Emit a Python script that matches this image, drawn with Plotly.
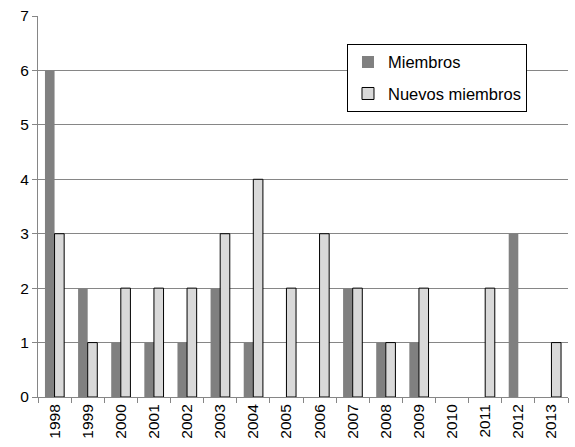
import plotly.graph_objects as go

years = ['1998', '1999', '2000', '2001', '2002', '2003', '2004', '2005',
         '2006', '2007', '2008', '2009', '2010', '2011', '2012', '2013']
miembros = [6, 2, 1, 1, 1, 2, 1, 0, 0, 2, 1, 1, 0, 0, 3, 0]
nuevos = [3, 1, 2, 2, 2, 3, 4, 2, 3, 2, 1, 2, 0, 2, 0, 1]

fig = go.Figure()
fig.add_trace(go.Bar(
    x=years, y=miembros, name='Miembros', legendgroup='a',
    marker=dict(color='#808080', line=dict(width=0)),
))
fig.add_trace(go.Bar(
    x=years, y=nuevos, name='Nuevos miembros', legendgroup='b',
    # no outline for empty bars
    marker=dict(color='#d9d9d9',
                line=dict(color='black', width=[1 if v else 0 for v in nuevos])),
))

fig.update_layout(
    width=575, height=447,
    barmode='group', bargap=0.42, bargroupgap=0,
    plot_bgcolor='white', paper_bgcolor='white',
    font=dict(family='Liberation Sans, Arial', size=15.5, color='black'),
    margin=dict(l=38, r=7, t=14, b=50),
    legend=dict(
        x=0.583, y=0.927, xanchor='left', yanchor='top',
        bordercolor='black', borderwidth=1,
        font=dict(size=16.5), tracegroupgap=7,
        itemwidth=30,
    ),
    xaxis=dict(
        tickangle=-90, showline=True, linecolor='#868686',
        ticks='outside', ticklen=5, tickcolor='#868686',
        tickson='boundaries', showgrid=False,
    ),
    yaxis=dict(
        range=[0, 7], dtick=1, showgrid=True, gridcolor='#868686',
        showline=True, linecolor='#868686', ticks='outside', ticklen=5,
        tickcolor='#868686', zeroline=False,
    ),
)

fig.write_html("out.html", config={'displayModeBar': False},
               post_script="document.body.style.margin='0';")
